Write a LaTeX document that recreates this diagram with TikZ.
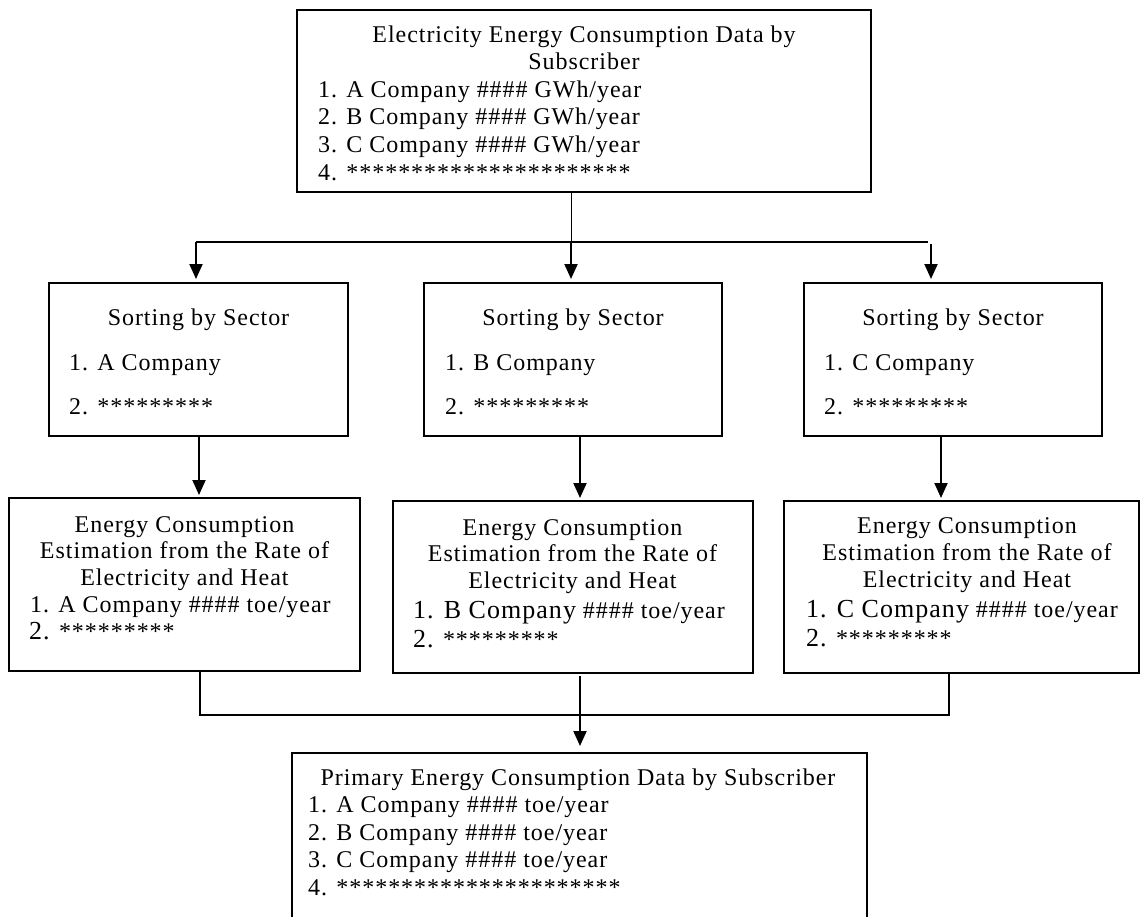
\documentclass[tikz,border=0pt]{standalone}
\usepackage{fontspec}
\setmainfont{Liberation Serif}[LetterSpace=4]
\usetikzlibrary{arrows.meta}
\newcommand\bigtxt{\fontsize{26}{28}\selectfont}
\begin{document}
\begin{tikzpicture}[x=1pt,y=-1pt,
  font=\fontsize{24}{27}\selectfont,
  box/.style={draw, rectangle, line width=1.6pt, inner sep=0pt, outer sep=0pt},
  tc/.style={inner sep=0pt, anchor=base},
  tl/.style={inner sep=0pt, anchor=base west},
  conn/.style={line width=1.2pt},
  arr/.style={line width=2pt, -{Triangle[length=15pt,width=13pt]}}]
\path[use as bounding box, clip] (0,0) rectangle (1140,916);
\fill[white] (0,0) rectangle (1140,916);

% ---------- boxes ----------
\node[box, minimum width=574pt, minimum height=182pt] (top) at (584,101) {};
\node[box, minimum width=299pt, minimum height=153pt] (s1) at (198.5,359.5) {};
\node[box, minimum width=298pt, minimum height=153pt] (s2) at (573,359.5) {};
\node[box, minimum width=298pt, minimum height=153pt] (s3) at (953,359.5) {};
\node[box, minimum width=351pt, minimum height=173pt] (e1) at (184.5,584.5) {};
\node[box, minimum width=360pt, minimum height=172pt] (e2) at (573,587) {};
\node[box, minimum width=355pt, minimum height=172pt] (e3) at (961.5,587) {};
\node[box, minimum width=575pt, minimum height=177pt] (bot) at (579.5,841.5) {};

% ---------- top box text ----------
\node[tc] (t1) at (584,42) {Electricity Energy Consumption Data by};
\node[tc] (t2) at (584,69.6) {Subscriber};
\node[tl] (t3) at (318,97.2) {1. A Company \#\#\#\# GWh/year};
\node[tl] (t4) at (318,124.8) {2. B Company \#\#\#\# GWh/year};
\node[tl] (t5) at (318,152.4) {3. C Company \#\#\#\# GWh/year};
\node[tl] (t6) at (318,180) {4. **********************};

% ---------- sorting boxes text ----------
\node[tc] (s1a) at (198.5,325) {Sorting by Sector};
\node[tl] (s1b) at (69,370) {1. A Company};
\node[tl] (s1c) at (69,414) {2. *********};
\node[tc] (s2a) at (573,325) {Sorting by Sector};
\node[tl] (s2b) at (445,370) {1. B Company};
\node[tl] (s2c) at (445,414) {2. *********};
\node[tc] (s3a) at (953,325) {Sorting by Sector};
\node[tl] (s3b) at (824,370) {1. C Company};
\node[tl] (s3c) at (824,414) {2. *********};

% ---------- energy boxes text ----------
\node[tc] (e1a) at (184.5,532) {Energy Consumption};
\node[tc] (e1b) at (184.5,558.7) {Estimation from the Rate of};
\node[tc] (e1c) at (184.5,585.3) {Electricity and Heat};
\node[tl] (e1d) at (30,612) {1. A Company \#\#\#\# toe/year};
\node[tl] (e1e) at (29,639) {{\bigtxt 2.} *********};

\node[tc] (e2a) at (572.5,535) {Energy Consumption};
\node[tc] (e2b) at (572.5,561.5) {Estimation from the Rate of};
\node[tc] (e2c) at (572.5,588) {Electricity and Heat};
\node[tl] (e2d) at (413,618) {{\bigtxt 1. B Company} \#\#\#\# toe/year};
\node[tl] (e2e) at (413,647) {{\bigtxt 2.} *********};

\node[tc] (e3a) at (967,533) {Energy Consumption};
\node[tc] (e3b) at (967,560) {Estimation from the Rate of};
\node[tc] (e3c) at (967,587) {Electricity and Heat};
\node[tl] (e3d) at (806,617) {{\bigtxt 1. C Company} \#\#\#\# toe/year};
\node[tl] (e3e) at (806,646) {{\bigtxt 2.} *********};

% ---------- bottom box text ----------
\node[tc] (b1) at (578,785) {Primary Energy Consumption Data by Subscriber};
\node[tl] (b2) at (308,812.5) {1. A Company \#\#\#\# toe/year};
\node[tl] (b3) at (308,840) {2. B Company \#\#\#\# toe/year};
\node[tl] (b4) at (308,867.5) {3. C Company \#\#\#\# toe/year};
\node[tl] (b5) at (308,895) {4. **********************};

% ---------- connectors ----------
\coordinate (j1) at (571,242);
\coordinate (hl) at (196,242);
\coordinate (hr) at (928,242);
\coordinate (ar) at (931,244);
\draw[line width=1pt] (top.south -| j1) -- (j1);
\draw[conn] (hl) -- (hr);
\draw[arr, shorten >=4pt] (hl) -- (hl |- s1.north);
\draw[arr, shorten >=4pt] (j1) -- (j1 |- s2.north);
\draw[arr, shorten >=4pt] (ar) -- (ar |- s3.north);

\coordinate (c1) at (199,0);
\coordinate (c2) at (580,0);
\coordinate (c3) at (941,0);
\draw[arr, shorten >=3pt] (s1.south -| c1) -- (c1 |- e1.north);
\draw[arr, shorten >=3pt] (s2.south -| c2) -- (c2 |- e2.north);
\draw[arr, shorten >=3pt] (s3.south -| c3) -- (c3 |- e3.north);

\coordinate (d1) at (200,715);
\coordinate (d3) at (949,715);
\draw[conn] (e1.south -| d1) -- (d1) -- (d3) -- (d3 |- e3.south);
\draw[arr, shorten <=3pt, shorten >=7pt] (e2.south -| c2) -- (c2 |- bot.north);
\end{tikzpicture}
\end{document}
